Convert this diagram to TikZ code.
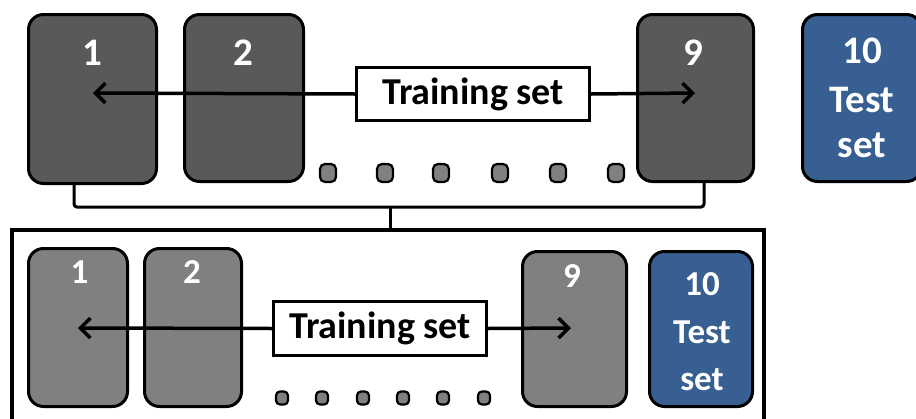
\documentclass[tikz,border=0pt]{standalone}
\usepackage{fontspec}
\setmainfont{Carlito}
\usetikzlibrary{arrows.meta}
\definecolor{darkbox}{HTML}{595959}
\definecolor{midbox}{HTML}{808080}
\definecolor{testblue}{HTML}{375F91}
\begin{document}
\begin{tikzpicture}[x=1pt,y=-1pt,
  fold/.style={draw=black, line width=3pt, rounded corners=15pt, inner sep=0pt},
  topfold/.style={fold, fill=darkbox},
  botfold/.style={fold, fill=midbox},
  testfold/.style={fold, fill=testblue},
  num/.style={text=white, font=\fontsize{39}{46}\selectfont\bfseries, anchor=base, inner sep=0pt},
  bnum/.style={num, font=\fontsize{35}{40}\selectfont\bfseries},
  trainbox/.style={draw=black, fill=white, line width=3pt, inner sep=0pt, font=\fontsize{38}{46}\selectfont\bfseries},
  dot/.style={draw=black, fill=midbox, line width=2.2pt, rounded corners=5pt, inner sep=0pt},
  sdot/.style={dot, rounded corners=4pt},
  arr/.style={line width=3.5pt, -{Straight Barb[length=10pt,width=20pt,line width=3.5pt]}},
  brace/.style={line width=3pt, rounded corners=3pt},
  frame/.style={line width=3.5pt}
]
\useasboundingbox (0,0) rectangle (916,418);

% ---- top row ----
\node[topfold, minimum width=128, minimum height=169] (t1) at (92.5,99) {};
\node[topfold, minimum width=119, minimum height=167] (t2) at (244,98) {};
\node[topfold, minimum width=116, minimum height=167] (t9) at (695.5,98) {};
\node[testfold, minimum width=119, minimum height=167] (t10) at (862,98) {};
\node[num] (t1l) at (92,65) {1};
\node[num] (t2l) at (243,65) {2};
\node[num] (t9l) at (693,65) {9};
\node[num] (t10a) at (862,63) {10};
\node[num] (t10b) at (862,112) {Test};
\node[num] (t10c) at (862,157) {set};

\foreach \i/\x in {1/328,2/385,3/441,4/500,5/558,6/616}
  \node[dot, minimum width=16, minimum height=18] (td\i) at (\x,173) {};

\node[trainbox, minimum width=233, minimum height=53] (ttr) at (473,94) {Training set};
\coordinate (tl) at (93,93);
\coordinate (tr) at (695,93);
\draw[arr] (ttr.west) -- (tl);
\draw[arr] (ttr.east) -- (tr);

% ---- bracket ----
\coordinate (bl) at (74,207);
\coordinate (br) at (704,207);
\coordinate (bm) at (390,207);
\draw[brace] (bl |- t1.south) -- (bl) -- (br) -- (br |- t9.south);

% ---- frame ----
\coordinate (f1) at (12,432);
\coordinate (f2) at (12,230);
\coordinate (f3) at (764,230);
\coordinate (f4) at (764,432);
\draw[frame] (f1) -- (f2) -- (f3) -- (f4);
\draw[brace] (bm) -- (bm |- f2);

% ---- bottom row ----
\node[botfold, minimum width=99, minimum height=158] (b1) at (78,327.5) {};
\node[botfold, minimum width=97, minimum height=158] (b2) at (193,327.5) {};
\node[botfold, minimum width=104, minimum height=155] (b9) at (574.5,329) {};
\node[testfold, minimum width=103, minimum height=155] (b10) at (701,329) {};
\node[bnum] (b1l) at (79.5,283) {1};
\node[bnum] (b2l) at (192,283) {2};
\node[bnum] (b9l) at (572,287) {9};
\node[bnum] (b10a) at (702,295) {10};
\node[bnum] (b10b) at (702,343) {Test};
\node[bnum] (b10c) at (702,390) {set};

\foreach \i/\x in {1/282,2/322,3/363,4/403,5/443,6/484}
  \node[sdot, minimum width=12, minimum height=13] (bd\i) at (\x,398) {};

\node[trainbox, minimum width=213, minimum height=54] (btr) at (380,328.5) {Training set};
\coordinate (bla) at (78,328);
\coordinate (bra) at (571,328);
\draw[arr] (btr.west) -- (bla);
\draw[arr] (btr.east) -- (bra);
\end{tikzpicture}
\end{document}
